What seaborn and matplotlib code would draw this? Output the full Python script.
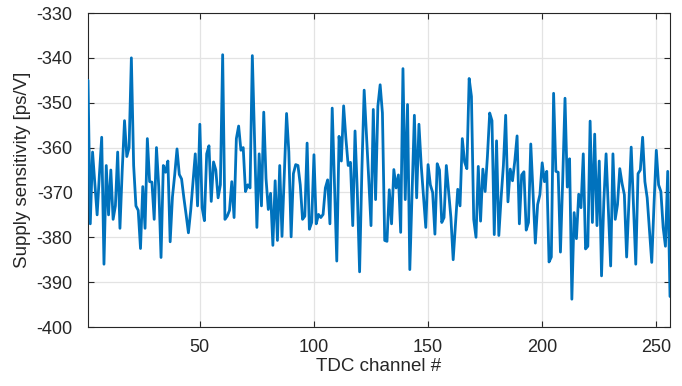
import numpy as np
import pandas as pd
import matplotlib
matplotlib.use("Agg")
import matplotlib.pyplot as plt
import seaborn as sns

# Supply sensitivity per TDC channel (ps/V)
sensitivity = [
    -345, -377, -361, -368, -375, -366, -357.7, -386, -364, -375, -365, -376, -373, -361, -378, -365,
    -354, -362, -360, -340, -364, -373, -374, -382.5, -368.7, -378, -358, -367.6, -367.7, -376, -360, -368.7,
    -384.5, -364, -365.5, -363, -381, -371, -366, -360.3, -366, -367, -371.2, -375, -379, -374, -367.6, -361.4,
    -373, -354.8, -373.4, -376.3, -361.4, -359.6, -372, -363.2, -365, -371.2, -368.3, -339.3, -376, -375.3, -374, -367.6,
    -375.6, -358, -355.2, -360.6, -360, -369.8, -368.3, -369, -339.5, -359, -377.8, -361.4, -373, -352.1, -366.9, -373.8,
    -370.2, -381.8, -367.4, -380.7, -364, -379.8, -366, -352.4, -361, -379.9, -365.8, -363.8, -364, -368.3, -376, -375.3,
    -359, -378.2, -376.7, -361.6, -377, -374.9, -375.6, -374.9, -369, -367.2, -377, -351.2, -368, -385.3, -357.5, -363,
    -350.7, -358, -364, -363.3, -377.4, -356.3, -370, -387.7, -365, -347.2, -357, -367, -377.4, -351.5, -371.6, -350.8,
    -346, -352.3, -380.7, -380.9, -369.4, -377, -364.9, -369, -366.1, -378.9, -342.4, -371.6, -350.4, -387.2, -370, -352.8,
    -371.2, -354.8, -364, -371, -377.8, -363.8, -368.3, -370, -379.3, -363.6, -365, -376.7, -375.6, -364, -369.8, -375.6,
    -385, -377, -369.3, -373, -358, -363.2, -364.7, -344.6, -348.6, -376, -380, -364.2, -376.4, -364.8, -369.8, -362,
    -352.3, -354, -379.4, -358.5, -379.6, -371.2, -364, -352.8, -372.1, -364.8, -367.4, -363, -357.4, -377, -366.1, -365.4,
    -378.4, -376.7, -359.2, -370, -381.3, -372.7, -370.5, -363.4, -367.6, -365.3, -385.5, -384.4, -347.9, -365.3, -365.5, -383.3,
    -367, -349, -368.8, -362.5, -393.8, -374.5, -380.3, -370.4, -373.4, -361.4, -382.6, -382, -354.1, -376.7, -357, -377.4,
    -363, -388.6, -372, -361.4, -374, -386.4, -361.4, -376, -372.7, -364.7, -368, -370.5, -384.4, -372, -359.9, -373,
    -386, -365.8, -365, -357.7, -367.6, -371.2, -378.5, -385.6, -372.6, -360.6, -368.3, -369.8, -377.8, -382, -365.3, -393.2,
]
channels = list(range(1, len(sensitivity) + 1))

x_ticks = [50, 100, 150, 200, 250]
y_ticks = [-400, -390, -380, -370, -360, -350, -340, -330]

sns.set_theme(style="white")
plt.rcParams["font.family"] = ["Liberation Sans", "DejaVu Sans"]
plt.rcParams["axes.unicode_minus"] = False

df = pd.DataFrame({"channel": channels, "sensitivity": sensitivity})

fig = plt.figure(figsize=(6.82, 3.86), dpi=100)
ax = fig.add_axes([88 / 682, 1 - 327 / 386, (670 - 88) / 682, (327 - 13) / 386])

sns.lineplot(data=df, x="channel", y="sensitivity", ax=ax,
             color="#0072BD", linewidth=2.0, zorder=3)

ax.set_xlim(1, 256)
ax.set_ylim(-400, -330)
ax.set_xticks(x_ticks)
ax.set_yticks(y_ticks)
ax.set_xticklabels([str(t) for t in x_ticks])
ax.set_yticklabels([str(t) for t in y_ticks])

ax.grid(True, color="#e3e3e3", linewidth=0.9, zorder=0)
ax.set_axisbelow(True)
for side in ["left", "right", "top", "bottom"]:
    ax.spines[side].set_visible(True)
    ax.spines[side].set_color("#262626")
    ax.spines[side].set_linewidth(0.8)

ax.tick_params(axis="both", which="both", direction="in", length=4, width=0.8,
               color="#262626", labelcolor="#262626", labelsize=13,
               top=True, right=True, bottom=True, left=True)
ax.tick_params(axis="y", pad=11)
ax.tick_params(axis="x", pad=9)

ax.set_xlabel("TDC channel #", fontsize=13.5, color="#262626", labelpad=1)
ax.set_ylabel("Supply sensitivity [ps/V]", fontsize=13.5, color="#262626", labelpad=4)

fig.savefig("out.png", dpi=100)
